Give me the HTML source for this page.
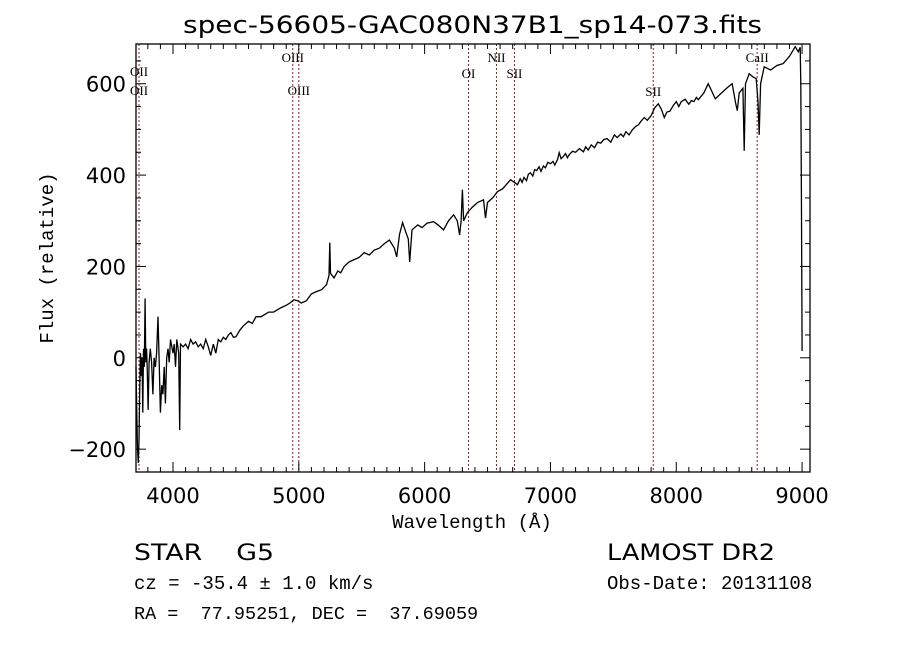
<!DOCTYPE html>
<html><head><meta charset="utf-8"><style>
html,body{margin:0;padding:0;background:#fff;}
svg{display:block;}
text{font-family:"DejaVu Sans","Liberation Sans",sans-serif;fill:#000;white-space:pre;}
.mono{font-family:"Liberation Mono",monospace;}
.ser{font-family:"Liberation Serif",serif;}
</style></head><body>
<svg id="chart" width="900" height="649" viewBox="0 0 900 649" xmlns="http://www.w3.org/2000/svg" xml:space="preserve">
<rect width="900" height="649" fill="#fff"/>
<text x="183" y="33" font-size="24" textLength="579" lengthAdjust="spacingAndGlyphs">spec-56605-GAC080N37B1_sp14-073.fits</text>
<g id="lines"></g>
<g id="axes"></g>
<polyline id="spec" fill="none" stroke="#000" stroke-width="1.3"/>
<text x="472" y="528" font-size="19" text-anchor="middle" class="mono">Wavelength (Å)</text>
<text transform="translate(53,258) rotate(-90)" font-size="19" text-anchor="middle" class="mono">Flux (relative)</text>
<text x="134" y="560" font-size="22" textLength="140" lengthAdjust="spacingAndGlyphs">STAR    G5</text>
<text x="607" y="560" font-size="22" textLength="168" lengthAdjust="spacingAndGlyphs">LAMOST DR2</text>
<text x="134" y="589" font-size="19" class="mono">cz = -35.4 ± 1.0 km/s</text>
<text x="607" y="589" font-size="19" class="mono">Obs-Date: 20131108</text>
<text x="134" y="619" font-size="18.5" class="mono">RA =  77.95251, DEC =  37.69059</text>
</svg>
<script>
const xTicks=[4000,5000,6000,7000,8000,9000];
const yTicks=[-200,0,200,400,600];
const lineWaves=[3730,4952,5000,6349,6571,6714,7817,8643];
const lineNames=["OII","OIII","OIII","OI","NII","SII","SII","CaII"];
const waves=[3706,3712,3718,3724,3730,3736,3742,3748,3754,3760,3766,3772,3778,3784,3790,3796,3802,3810,3820,3830,3840,3850,3860,3870,3881,3890,3900,3910,3920,3930,3940,3950,3960,3970,3980,4000,4010,4020,4030,4045,4053,4060,4080,4100,4120,4140,4160,4180,4200,4220,4240,4260,4280,4300,4320,4340,4360,4380,4400,4420,4440,4460,4480,4500,4530,4560,4600,4630,4660,4700,4730,4760,4800,4830,4860,4900,4930,4960,4990,5020,5060,5100,5140,5180,5220,5240,5246,5252,5280,5310,5333,5360,5400,5440,5480,5520,5560,5600,5640,5680,5720,5760,5778,5800,5825,5850,5870,5881,5900,5945,5980,6020,6072,6110,6150,6190,6230,6260,6278,6290,6300,6310,6340,6380,6420,6468,6484,6500,6540,6580,6620,6683,6738,6760,6775,6790,6810,6825,6841,6860,6875,6890,6910,6925,6944,6960,6980,7000,7020,7035,7056,7070,7085,7100,7120,7135,7150,7175,7200,7230,7262,7280,7300,7325,7350,7375,7400,7425,7450,7480,7508,7530,7560,7580,7600,7625,7651,7675,7700,7720,7746,7770,7800,7830,7857,7880,7905,7925,7950,7975,8000,8020,8040,8070,8100,8120,8140,8160,8175,8220,8254,8280,8310,8360,8400,8445,8470,8485,8500,8530,8540,8550,8580,8610,8635,8650,8659,8670,8699,8750,8800,8850,8900,8945,8970,8985,8990,8995,9000];
const flux=[-20,-120,-200,-230,-180,-60,10,-40,0,-120,20,-20,130,-10,20,-30,-114,-10,20,-10,-80,0,-20,10,90,-10,-120,-60,-80,-20,-100,0,20,-10,40,10,30,-20,40,10,-158,30,24,30,20,40,30,35,24,30,20,40,25,5,30,10,40,35,45,40,50,55,45,46,60,70,80,75,90,90,95,100,100,105,110,115,120,127,125,120,125,140,145,149,160,180,252,185,175,190,186,200,210,215,220,230,225,236,240,250,258,240,221,270,296,275,260,210,280,291,285,295,298,290,280,300,313,300,269,300,368,300,318,330,340,346,306,340,350,364,370,390,379,392,384,395,388,402,405,398,412,410,418,408,420,416,428,425,430,422,434,449,436,440,447,438,445,452,450,458,451,462,455,466,460,472,470,478,480,472,488,482,490,484,495,488,499,506,510,518,526,520,530,548,556,545,526,538,540,552,561,550,561,566,555,563,561,570,565,580,600,585,567,580,590,600,560,541,580,590,453,600,622,615,611,560,488,600,637,630,640,644,660,681,670,680,600,360,15];

const X0=136,X1=810,Y0=44,Y1=472;
const WMIN=3706,WMAX=9063,FMIN=-250,FMAX=687;
const sx=w=>X0+(w-WMIN)/(WMAX-WMIN)*(X1-X0);
const sy=f=>Y1-(f-FMIN)/(FMAX-FMIN)*(Y1-Y0);
const NS="http://www.w3.org/2000/svg";
function mk(tag,attrs,parent){const e=document.createElementNS(NS,tag);for(const k in attrs)e.setAttribute(k,attrs[k]);parent.appendChild(e);return e;}

const axes=document.getElementById('axes');
const frame=mk('rect',{x:X0,y:Y0,width:X1-X0,height:Y1-Y0,fill:'none',stroke:'#000','stroke-width':1.3},axes);


for(let w=3800;w<=9000;w+=100){
  const major=w%1000===0,len=major?10:5,x=sx(w);
  const t1=mk('line',{x1:x,x2:x,y1:Y1,y2:Y1-len,stroke:'#000','stroke-width':1},axes);
  
  
  const t2=mk('line',{x1:x,x2:x,y1:Y0,y2:Y0+len,stroke:'#000','stroke-width':1},axes);
  
  
}
xTicks.forEach(v=>{
  const t=mk('text',{x:sx(v),y:Y1+31,'font-size':21,'text-anchor':'middle'},axes);
  t.textContent=v;
  
  
});
for(let f=-250;f<=650;f+=50){
  const major=f%200===0,len=major?10:5,y=sy(f);
  const t1=mk('line',{x1:X0,x2:X0+len,y1:y,y2:y,stroke:'#000','stroke-width':1},axes);
  
  
  const t2=mk('line',{x1:X1,x2:X1-len,y1:y,y2:y,stroke:'#000','stroke-width':1},axes);
  
  
}
yTicks.forEach(v=>{
  const t=mk('text',{x:X0-10,y:sy(v)+8,'font-size':21,'text-anchor':'end'},axes);
  t.textContent=v===-200?'\u2212200':v;
  
  
});

const lg=document.getElementById('lines');
const labelY=[71,57,90,73,57,73,91,57];
lineWaves.forEach((w,i)=>{
  const x=sx(w);
  const l=mk('line',{x1:x,x2:x,y1:Y0,y2:Y1,stroke:'#8b2020','stroke-width':1,'stroke-dasharray':'2,2'},lg);
  
  
  const t=mk('text',{x:x,y:labelY[i]+5,'font-size':13,'text-anchor':'middle',class:'ser'},lg);
  t.textContent=lineNames[i];
  
  
});
const t2=mk('text',{x:sx(3730),y:95,'font-size':13,'text-anchor':'middle',class:'ser'},lg);
t2.textContent='OII';



const pts=waves.map((w,i)=>sx(w).toFixed(1)+','+sy(flux[i]).toFixed(1)).join(' ');
document.getElementById('spec').setAttribute('points',pts);
</script>
</body></html>
